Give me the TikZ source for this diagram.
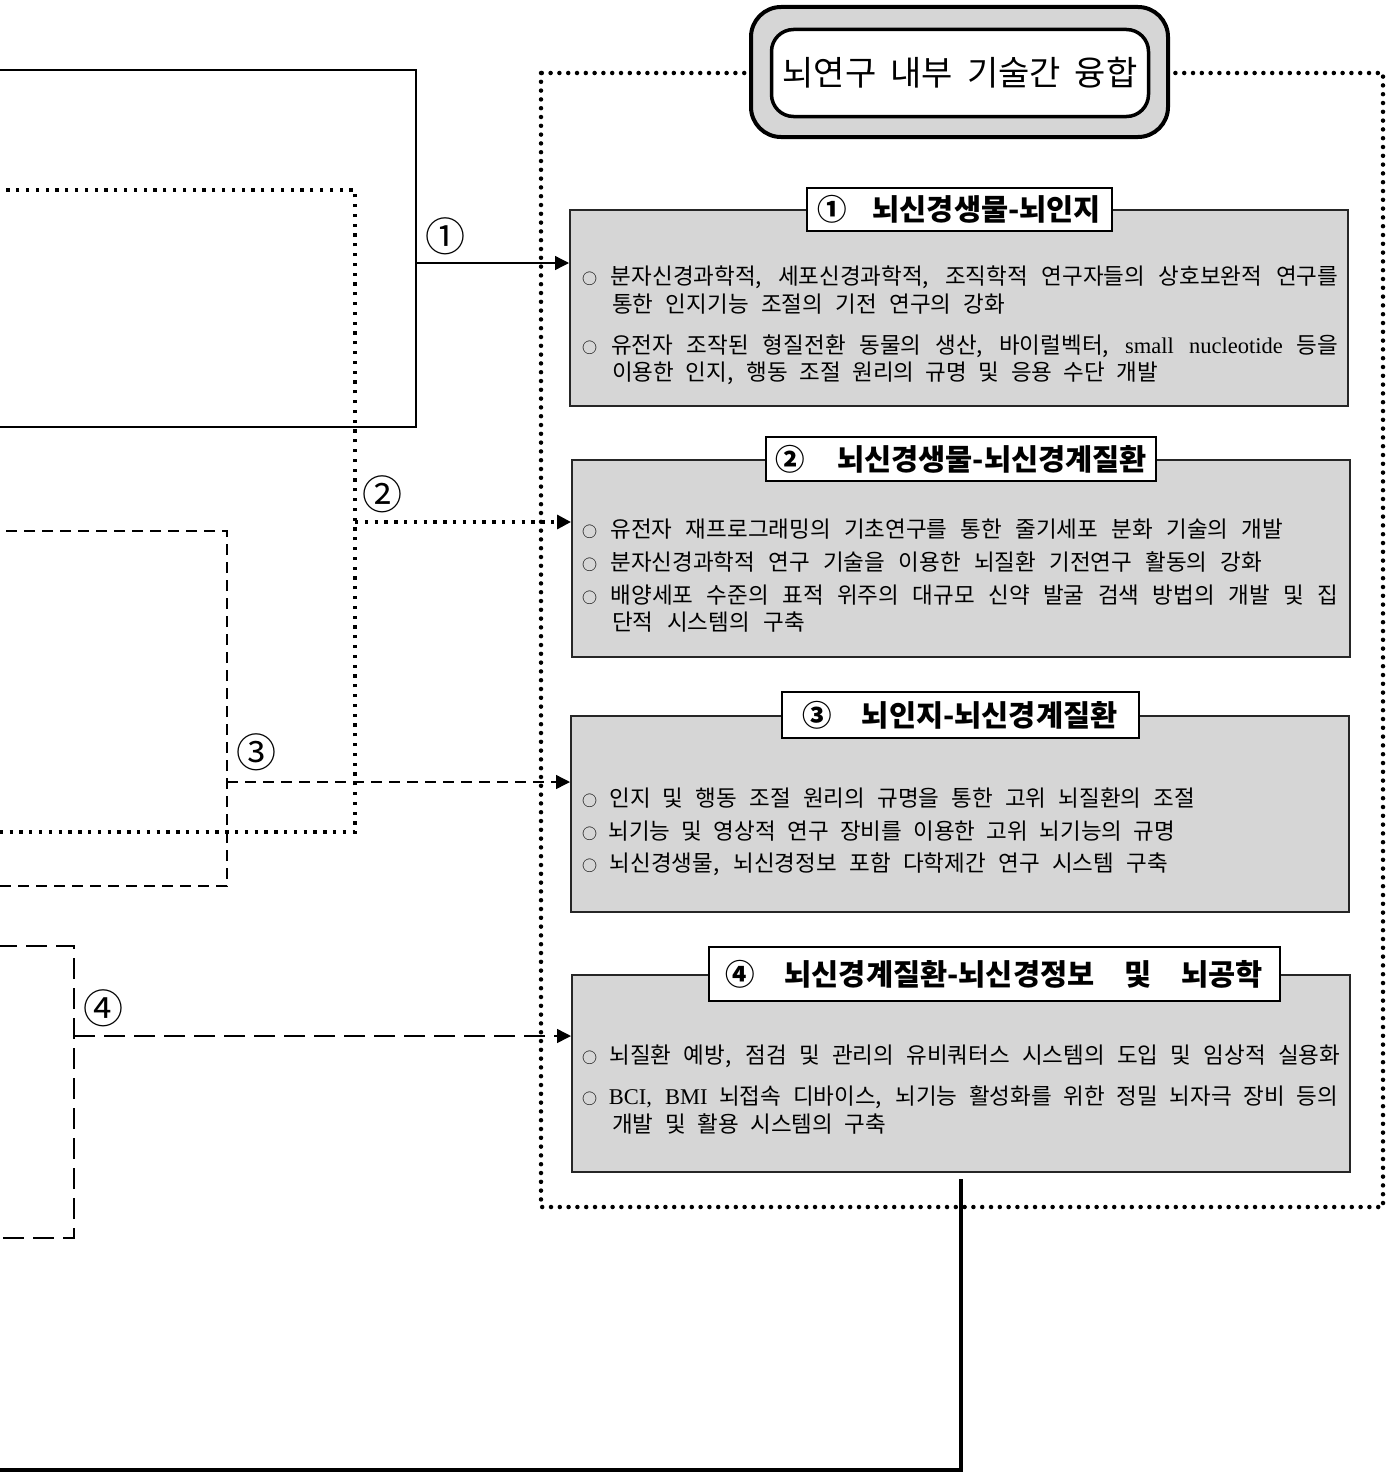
\documentclass[tikz,border=0pt]{standalone}
\usepackage{fontspec}
\setmainfont{Noto Sans CJK KR}
\newfontfamily\latinserif{Liberation Serif}
\usepackage{xcolor}
\usetikzlibrary{arrows.meta, positioning}
\definecolor{boxgray}{RGB}{214,214,214}
\newcommand{\bul}{{\fontsize{15}{15}\selectfont ○}}
\tikzset{
  graybox/.style={draw=black!85, line width=2pt, fill=boxgray, minimum width=778pt, minimum height=196pt, inner sep=0pt},
  titlebox/.style={draw, line width=2pt, fill=white, inner sep=0pt, font=\fontsize{29.5}{32}\selectfont\bfseries},
  bodyline/.style={anchor=west, inner sep=0pt, font=\fontsize{22.5}{25}\selectfont},
  numlab/.style={inner sep=0pt, font=\fontsize{40}{42}\selectfont},
  sqdot/.style={line width=3.2pt, dash pattern=on 3.3pt off 6.5pt},
  rnddot/.style={line width=4.5pt, line cap=round, dash pattern=on 0pt off 8.8pt},
  meddash/.style={line width=1.4pt, dash pattern=on 11pt off 7pt},
  longdash/.style={line width=1.5pt, dash pattern=on 21pt off 9pt},
  tip/.style={-{Triangle[length=14pt,width=14pt]}},
}
\begin{document}
\begin{tikzpicture}[x=1pt,y=-1pt]
\useasboundingbox (0,0) rectangle (1390,1472);
\clip (0,0) rectangle (1390,1472);
% outer dotted frame
\draw[rnddot] (541,73) rectangle (1383,1207);
% header pill
\node[draw, line width=4pt, fill=boxgray, rounded corners=30pt, minimum width=417pt, minimum height=130pt] (hdout) at (959.5,72) {};
\node[draw, line width=3.5pt, fill=white, rounded corners=22pt, minimum width=377pt, minimum height=87pt, inner sep=0pt,
  font=\fontsize{34}{36}\selectfont] (hdin) at (960,73) {\makebox[355pt][s]{뇌연구 내부 기술간 융합}};
% gray boxes and titles
\node[graybox] (b1) at (959,308) {};
\node[graybox, minimum height=197pt] (b2) at (961,558.5) {};
\node[graybox] (b3) at (960,814) {};
\node[graybox, minimum height=197pt] (b4) at (961,1073.5) {};
\node[titlebox, minimum width=305pt, minimum height=43pt] (t1) at (b1.north) {\makebox[284pt][s]{① 뇌신경생물-뇌인지}};
\node[titlebox, minimum width=390pt, minimum height=44pt] (t2) at (b2.north) {\makebox[372pt][s]{② 뇌신경생물-뇌신경계질환}};
\node[titlebox, minimum width=357pt, minimum height=46pt] (t3) at (b3.north) {\makebox[315pt][s]{③ 뇌인지-뇌신경계질환}};
\node[titlebox, minimum width=571pt, minimum height=54pt] (t4) at ([xshift=33pt]b4.north) {\makebox[537pt][s]{④ 뇌신경계질환-뇌신경정보 및 뇌공학}};
% body lines: x/y/width/text
\foreach \x/\y/\w/\t [count=\k] in {
  582/277/756/{\bul\ 분자신경과학적, 세포신경과학적, 조직학적 연구자들의 상호보완적 연구를},
  612/304/393/{통한 인지기능 조절의 기전 연구의 강화},
  582/346/756/{\bul\ 유전자 조작된 형질전환 동물의 생산, 바이럴벡터, {\latinserif small nucleotide} 등을},
  612/373/546/{이용한 인지, 행동 조절 원리의 규명 및 응용 수단 개발},
  582/529/701/{\bul\ 유전자 재프로그래밍의 기초연구를 통한 줄기세포 분화 기술의 개발},
  582/562/680/{\bul\ 분자신경과학적 연구 기술을 이용한 뇌질환 기전연구 활동의 강화},
  582/595/756/{\bul\ 배양세포 수준의 표적 위주의 대규모 신약 발굴 검색 방법의 개발 및 집},
  612/622/193/{단적 시스템의 구축},
  582/798/613/{\bul\ 인지 및 행동 조절 원리의 규명을 통한 고위 뇌질환의 조절},
  582/831/593/{\bul\ 뇌기능 및 영상적 연구 장비를 이용한 고위 뇌기능의 규명},
  582/864/586/{\bul\ 뇌신경생물, 뇌신경정보 포함 다학제간 연구 시스템 구축},
  582/1056/758/{\bul\ 뇌질환 예방, 점검 및 관리의 유비쿼터스 시스템의 도입 및 임상적 실용화},
  582/1097/756/{\bul\ {\latinserif BCI, BMI} 뇌접속 디바이스, 뇌기능 활성화를 위한 정밀 뇌자극 장비 등의},
  612/1124/274/{개발 및 활용 시스템의 구축}}
  \node[bodyline] (line\k) at (\x,\y) {\makebox[\w pt][s]{\t}};
% source frames on the left
\draw[line width=1.3pt] (-5,70) rectangle (416,427);
\draw[sqdot] (-5,190) rectangle (355,832);
\draw[meddash] (-5,531) rectangle (227,886);
\draw[longdash] (-5,946) rectangle (74,1238);
\coordinate (s1) at (416,263);
\coordinate (s2) at (355,522);
\coordinate (s3) at (227,782);
\coordinate (s4) at (74,1036);
% connectors
\draw[line width=1.3pt, tip] (s1) -- (s1 -| b1.west);
\draw[sqdot, tip] (s2) -- (s2 -| b2.west);
\draw[meddash, tip] (s3) -- (s3 -| b3.west);
\draw[longdash, tip] (s4) -- (s4 -| b4.west);
\path (s1) ++(29,-27) node[numlab] (n1) {①};
\path (s2) ++(27,-28) node[numlab] (n2) {②};
\path (s3) ++(29,-30) node[numlab] (n3) {③};
\path (s4) ++(29,-28) node[numlab] (n4) {④};
% bottom outlet
\coordinate (e4) at (-5,1470);
\draw[line width=4pt] ([yshift=-6pt]b4.south) |- (e4);
\end{tikzpicture}
\end{document}
